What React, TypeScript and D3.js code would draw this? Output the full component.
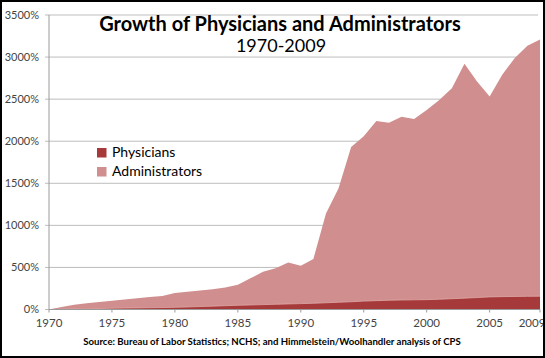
import React from "react";
import * as d3 from "d3";

const years: number[] = d3.range(1970, 2010);
const administrators: number[] = [
  0, 30, 55, 75, 90, 105, 120, 135, 150, 160,
  195, 210, 225, 240, 260, 295, 370, 450, 490, 560,
  520, 600, 1140, 1440, 1930, 2060, 2240, 2220, 2290, 2265,
  2370, 2490, 2630, 2920, 2710, 2530, 2790, 2990, 3135, 3210,
];
const physicians: number[] = [
  0, 3, 6, 9, 12, 15, 17, 19, 21, 23,
  26, 30, 35, 40, 45, 50, 54, 58, 62, 66,
  70, 74, 80, 86, 92, 100, 105, 110, 113, 115,
  117, 122, 128, 135, 142, 150, 153, 155, 157, 158,
];
const yTicks: number[] = [0, 500, 1000, 1500, 2000, 2500, 3000, 3500];
const xTickYears: number[] = [1970, 1975, 1980, 1985, 1990, 1995, 2000, 2005, 2009];
const seriesNames: string[] = ["Physicians", "Administrators"];

const W = 545;
const H = 358;
const FONT = "Lato, 'Open Sans', sans-serif";

export default function App() {
  const x = d3.scaleLinear().domain([1970, 2009]).range([49, 540]);
  const y = d3.scaleLinear().domain([0, 3500]).range([309.5, 15]);

  const adminArea = d3
    .area<number>()
    .x((_, i) => x(years[i]))
    .y0(y(0))
    .y1((d) => y(d));
  const physArea = d3
    .area<number>()
    .x((_, i) => x(years[i]))
    .y0(y(0))
    .y1((d) => y(d));
  const physLine = d3
    .line<number>()
    .x((_, i) => x(years[i]))
    .y((d) => y(d));

  const adminColor = "#d08e8e";
  const physColor = "#a63a3a";

  return (
    <svg
      width={W}
      height={H}
      style={{ position: "absolute", left: 0, top: 0, background: "#fff" }}
      fontFamily={FONT}
    >
      <rect x={0} y={0} width={W} height={H} fill="#fff" />
      {yTicks.map((t) => (
        <g key={t}>
          <line x1={45} x2={538} y1={y(t)} y2={y(t)} stroke="#bdbdbd" strokeWidth={1} />
          <text x={39} y={y(t)} dy="0.35em" textAnchor="end" fontSize={11} fill="#444">
            {t}%
          </text>
        </g>
      ))}
      <path d={adminArea(administrators) || ""} fill={adminColor} />
      <path d={physArea(physicians) || ""} fill={physColor} />
      <path d={physLine(physicians) || ""} fill="none" stroke="#e0a8a8" strokeWidth={0.8} />
      <line x1={49} x2={49} y1={y(3500)} y2={y(0)} stroke="#9a9a9a" />
      <line x1={49} x2={540} y1={y(0)} y2={y(0)} stroke="#9a9a9a" />
      {xTickYears.map((yr) => (
        <g key={yr}>
          <line x1={x(yr)} x2={x(yr)} y1={y(0)} y2={y(0) + 3} stroke="#9a9a9a" />
          <text
            x={yr === 2009 ? x(yr) - 8 : x(yr)}
            y={327}
            textAnchor="middle"
            fontSize={11.5}
            fill="#444"
          >
            {yr}
          </text>
        </g>
      ))}
      <text x={280} y={31} textAnchor="middle" fontSize={20} fontWeight="bold" fill="#000">
        Growth of Physicians and Administrators
      </text>
      <text x={281} y={52} textAnchor="middle" fontSize={18} fill="#000">
        1970-2009
      </text>
      {seriesNames.map((name, i) => (
        <g key={name} transform={`translate(97, ${148 + i * 19})`}>
          <rect width={9.5} height={9.5} fill={i === 0 ? physColor : adminColor} />
          <text x={15} y={9.3} fontSize={14} fill="#000">
            {name}
          </text>
        </g>
      ))}
      <text x={272} y={345} textAnchor="middle" fontSize={9.6} fontWeight="bold" fill="#000">
        Source: Bureau of Labor Statistics; NCHS; and Himmelstein/Woolhandler analysis of CPS
      </text>
      <rect x={1} y={1} width={W - 2} height={H - 2} fill="none" stroke="#000" strokeWidth={2} />
    </svg>
  );
}
